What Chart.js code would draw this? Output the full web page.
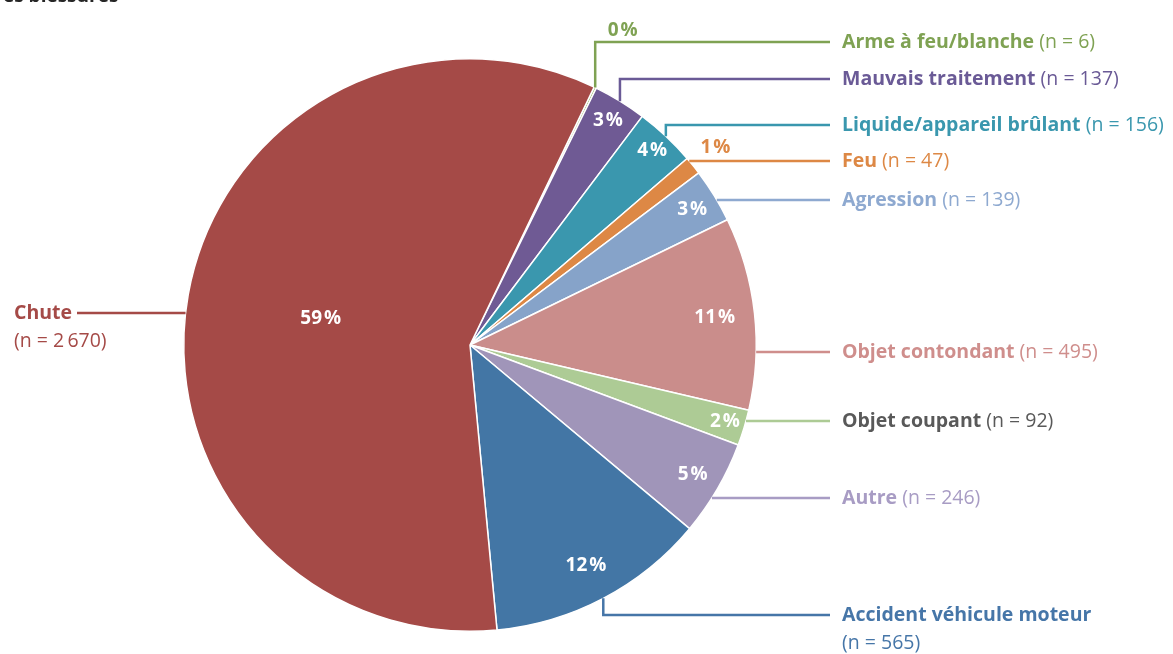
<!DOCTYPE html>
<html>
<head>
<meta charset="utf-8">
<script src="https://cdn.jsdelivr.net/npm/chart.js@4.4.0/dist/chart.umd.min.js"></script>
<style>
  html, body { margin: 0; padding: 0; background: #fff; }
  #wrap { position: relative; width: 1173px; height: 654px; }
</style>
</head>
<body>
<div id="wrap"><canvas id="graficoBlessures"></canvas></div>
<script>
// Données
const categories = ['Arme à feu/blanche', 'Mauvais traitement', 'Liquide/appareil brûlant', 'Feu', 'Agression',
    'Objet contondant', 'Objet coupant', 'Autre', 'Accident véhicule moteur', 'Chute'];
const effectifs = [6, 137, 156, 47, 139, 495, 92, 246, 565, 2670];
const pourcentages = [0, 3, 4, 1, 3, 11, 2, 5, 12, 59];

// Couleurs
const couleursParts = ['#8AAB5C', '#6F5A94', '#3A97AE', '#DD8845', '#86A3C9', '#CA8D8B', '#ADCB95', '#A095B9', '#4376A5', '#A54A47'];
const couleursTexte = ['#7FA253', '#6A5A96', '#3A97AE', '#DD8845', '#8EA9D0', '#CF8E8C', '#595959', '#A89CC4', '#4676A8', '#A54A47'];

// Mise en page des étiquettes (y de l'étiquette, coude vertical ou non, rayon du %)
const etiquetteY = [42, 79, 125, 161, 200, 352, 421, 498, 615, 313];
const coude = [true, true, true, false, false, false, false, false, true, false];
const rayonPct = [1.22, 0.92, 0.93, 1.10, 0.91, 0.86, 0.93, 0.90, 0.87, 0.53];

const FONT = '"Open Sans", Lato, sans-serif';
const TAILLE = 19.5;

function fmtN(n) {
    return '(n = ' + String(n).replace(/\B(?=(\d{3})+(?!\d))/g, '\u2009') + ')';
}

function texteMixte(ctx, x, y, gras, normal, couleur) {
    ctx.fillStyle = couleur;
    ctx.font = 'bold ' + TAILLE + 'px ' + FONT;
    ctx.fillText(gras, x, y);
    const w = ctx.measureText(gras + ' ').width;
    ctx.font = TAILLE + 'px ' + FONT;
    ctx.fillText(normal, x + w, y);
}

const etiquettes = {
    id: 'etiquettes',
    afterDatasetsDraw(chart) {
        const ctx = chart.ctx;
        const arcs = chart.getDatasetMeta(0).data;
        ctx.save();

        // titre coupé
        ctx.fillStyle = '#262626';
        ctx.font = 'bold 19px ' + FONT;
        ctx.textAlign = 'left';
        ctx.textBaseline = 'alphabetic';
        ctx.fillText('es blessures', 3, 2);
        ctx.textBaseline = 'middle';

        arcs.forEach((arc, i) => {
            const cx = arc.x, cy = arc.y, r = arc.outerRadius;
            const mid = (arc.startAngle + arc.endAngle) / 2;
            const ly = etiquetteY[i];

            // pourcentage
            const rp = r * rayonPct[i];
            ctx.font = 'bold 19px ' + FONT;
            ctx.textAlign = 'center';
            ctx.fillStyle = rayonPct[i] > 1 ? couleursTexte[i] : '#fff';
            ctx.fillText(pourcentages[i] + '\u200a%', cx + rp * Math.cos(mid), cy + rp * Math.sin(mid));

            // ligne de rappel
            ctx.strokeStyle = i === 6 ? couleursParts[i] : couleursTexte[i];
            ctx.lineWidth = 2.5;
            ctx.beginPath();
            const droite = Math.cos(mid) >= 0 || coude[i];
            if (coude[i]) {
                const sx = cx + r * Math.cos(mid), sy = cy + r * Math.sin(mid);
                ctx.moveTo(sx, sy);
                ctx.lineTo(sx, ly);
                ctx.lineTo(830, ly);
            } else {
                const dx = Math.sqrt(Math.max(r * r - (ly - cy) * (ly - cy), 0));
                if (droite) {
                    ctx.moveTo(cx + dx, ly);
                    ctx.lineTo(830, ly);
                } else {
                    ctx.moveTo(cx - dx, ly);
                    ctx.lineTo(77, ly);
                }
            }
            ctx.stroke();

            // texte
            ctx.textAlign = 'left';
            if (i === 8) {
                texteMixte(ctx, 842, ly, categories[i], '', couleursTexte[i]);
                ctx.font = TAILLE + 'px ' + FONT;
                ctx.fillText(fmtN(effectifs[i]), 842, ly + 28);
            } else if (!droite) {
                texteMixte(ctx, 14, ly, categories[i], '', couleursTexte[i]);
                ctx.font = TAILLE + 'px ' + FONT;
                ctx.fillText(fmtN(effectifs[i]), 14, ly + 28);
            } else {
                texteMixte(ctx, 842, ly, categories[i], fmtN(effectifs[i]), couleursTexte[i]);
            }
        });
        ctx.restore();
    }
};

window.addEventListener('DOMContentLoaded', () => {
    new Chart(document.getElementById('graficoBlessures'), {
        type: 'pie',
        data: {
            labels: categories,
            datasets: [{
                data: effectifs,
                backgroundColor: couleursParts,
                borderColor: '#fff',
                borderWidth: 1.5
            }]
        },
        options: {
            responsive: true,
            maintainAspectRatio: false,
            animation: false,
            rotation: 25.7,
            layout: { padding: { left: 183, right: 416, top: 58, bottom: 22 } },
            plugins: {
                legend: { display: false },
                tooltip: { enabled: false }
            }
        },
        plugins: [etiquettes]
    });
});
</script>
</body>
</html>
